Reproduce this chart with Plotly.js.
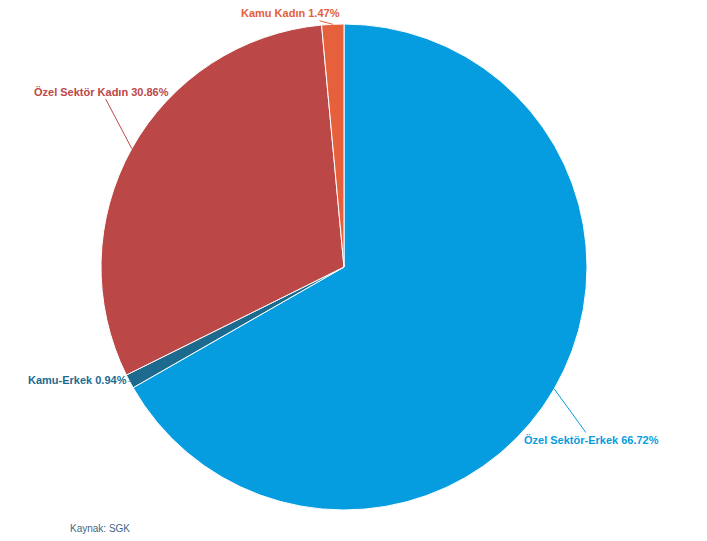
<!DOCTYPE html>
<html>
<head>
<meta charset="utf-8">
<script src="https://cdn.plot.ly/plotly-3.0.1.min.js"></script>
<style>html,body{margin:0;padding:0;background:#fff;}#chart{width:707px;height:541px;}</style>
</head>
<body>
<div id="chart"></div>
<script>
const labels = ["Özel Sektör-Erkek", "Kamu-Erkek", "Özel Sektör Kadın", "Kamu Kadın"];
const values = [66.72, 0.94, 30.86, 1.47];
const colors = ["#069de0", "#1c6b8f", "#bc4747", "#e5603b"];
const source = "Kaynak: SGK";

// label offsets from the slice edge (pixels) — styling only
const labelOffsets = [[37, 51], [-52, -1], [-30, -57], [-42, -11]];

const W = 707, H = 541;
const domX = [101/W, 587/W], domY = [31/H, 517/H];
const cxPx = (domX[0] + domX[1]) / 2 * W;
const cyPx = H - (domY[0] + domY[1]) / 2 * H;
const rPx = Math.min((domX[1]-domX[0]) * W, (domY[1]-domY[0]) * H) / 2;

const trace = {
  type: "pie",
  labels: labels,
  values: values,
  sort: false,
  direction: "clockwise",
  rotation: 0,
  marker: {colors: colors, line: {color: "#ffffff", width: 1}},
  textinfo: "none",
  hoverinfo: "label+value",
  showlegend: false,
  domain: {x: domX, y: domY}
};

const total = values.reduce((a, b) => a + b, 0);
let cum = 0;
const annotations = [];
values.forEach((v, i) => {
  const mid = (cum + v / 2) / total * 2 * Math.PI;
  cum += v;
  const ex = cxPx + rPx * Math.sin(mid);
  const ey = cyPx - rPx * Math.cos(mid);
  annotations.push({
    text: labels[i] + " " + v.toFixed(2) + "%",
    xref: "paper", yref: "paper",
    x: ex / W, y: 1 - ey / H,
    ax: labelOffsets[i][0], ay: labelOffsets[i][1],
    showarrow: true, arrowhead: 0, arrowwidth: 1, arrowcolor: colors[i], standoff: 0,
    font: {family: "Liberation Sans, Arial, sans-serif", size: 11, weight: "bold", color: colors[i]}
  });
});
annotations.push({
  text: source, xref: "paper", yref: "paper", x: 68/W, y: 13/H,
  xanchor: "left", yanchor: "middle", showarrow: false,
  font: {family: "Liberation Sans, Arial, sans-serif", size: 10, color: "#3f6688"}
});

const layout = {
  width: W, height: H,
  margin: {l: 0, r: 0, t: 0, b: 0},
  paper_bgcolor: "#ffffff",
  showlegend: false,
  annotations: annotations
};

Plotly.newPlot("chart", [trace], layout, {displayModeBar: false, staticPlot: true});
</script>
</body>
</html>
